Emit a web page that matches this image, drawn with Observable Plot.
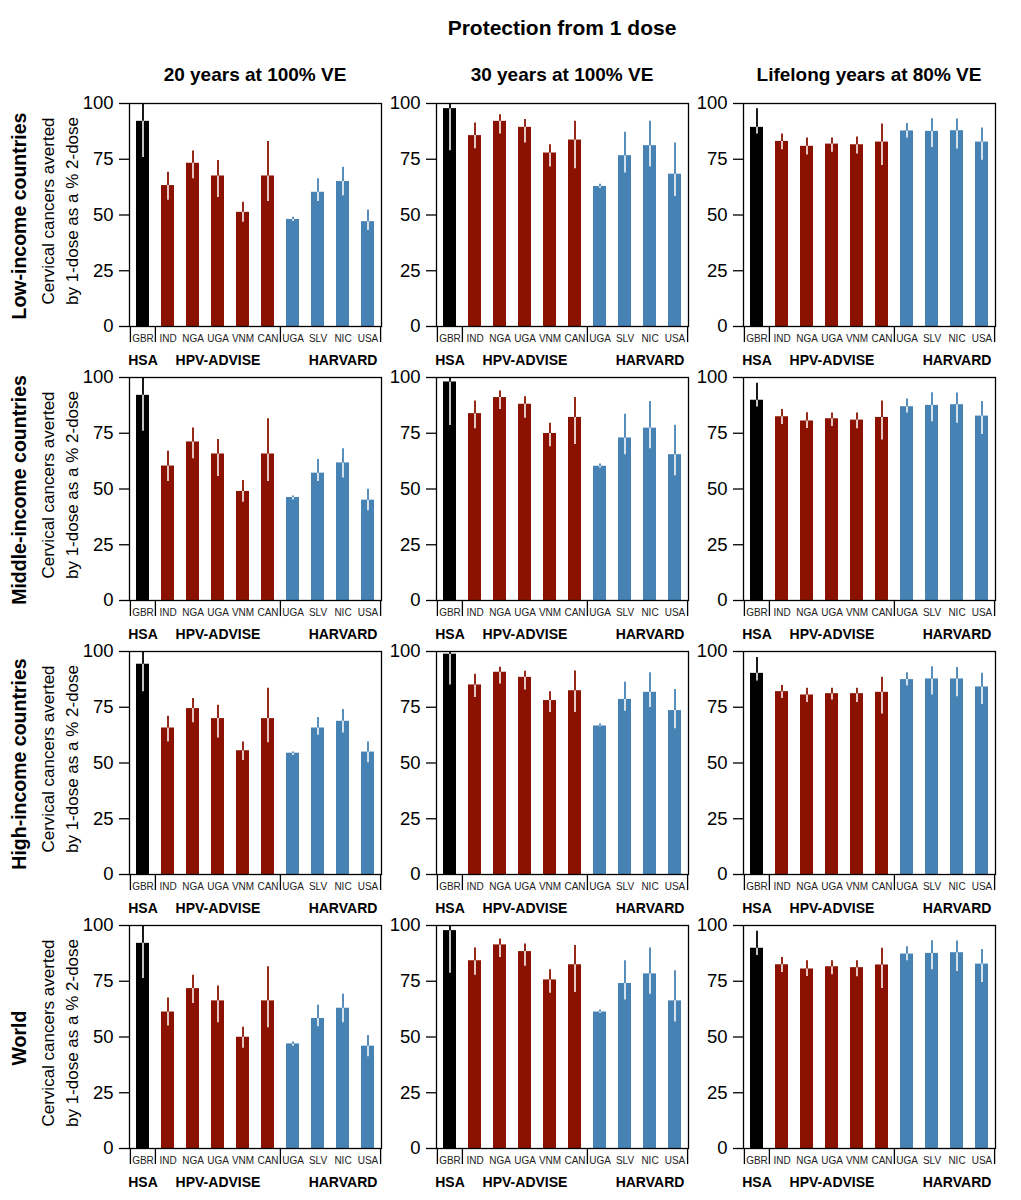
<!DOCTYPE html>
<html><head><meta charset="utf-8">
<script src="https://cdn.jsdelivr.net/npm/d3@7"></script>
<script src="https://cdn.jsdelivr.net/npm/@observablehq/plot@0.6"></script>
<style>
body{margin:0;background:#fff;font-family:"Liberation Sans",Arial,sans-serif;}
#wrap{position:relative;width:1021px;height:1200px;overflow:hidden;}
.t{position:absolute;transform:translate(-50%,-50%);white-space:nowrap;color:#000;line-height:1;}
.b{font-weight:bold;}
.p{position:absolute;}
</style></head><body><div id="wrap"></div>
<script>
// ---- data ----
const mainTitle = "Protection from 1 dose";
const colTitles = ["20 years at 100% VE", "30 years at 100% VE", "Lifelong years at 80% VE"];
const rowTitles = ["Low-income countries", "Middle-income countries", "High-income countries", "World"];
const yLabelLines = ["Cervical cancers averted", "by 1-dose as a % 2-dose"];
const codes = ["GBR", "IND", "NGA", "UGA", "VNM", "CAN", "UGA", "SLV", "NIC", "USA"];
const groupOf = ["HSA", "HPV-ADVISE", "HPV-ADVISE", "HPV-ADVISE", "HPV-ADVISE", "HPV-ADVISE", "HARVARD", "HARVARD", "HARVARD", "HARVARD"];
const groupNames = ["HSA", "HPV-ADVISE", "HARVARD"];
const groupColors = ["#000000", "#8b1200", "#4682b4"];
const groupStart = [0, 1, 6];
const groupAnchor = [0, 3, 8];
const yTicks = [0, 25, 50, 75, 100];

// Low-income
const low20 = [92.0, 63.2, 73.2, 67.5, 51.2, 67.5, 48.0, 60.2, 65.0, 47.0];
const low20Lo = [75.8, 56.6, 66.3, 57.8, 46.7, 56.0, 47.1, 56.0, 58.6, 43.0];
const low20Hi = [100, 69.2, 78.7, 74.4, 55.7, 83.0, 49.0, 66.3, 71.4, 52.2];
const low30 = [97.7, 85.6, 92.0, 89.3, 77.8, 83.6, 62.8, 76.6, 81.1, 68.3];
const low30Lo = [78.8, 79.7, 86.3, 82.3, 71.5, 70.7, 62.0, 68.8, 71.5, 58.3];
const low30Hi = [100, 91.3, 94.9, 92.8, 81.5, 92.0, 63.8, 87.1, 92.0, 82.3];
const lowLife = [89.3, 83.0, 80.8, 81.8, 81.5, 82.7, 87.7, 87.5, 87.8, 82.7];
const lowLifeLo = [86.3, 79.3, 76.9, 78.1, 77.3, 72.2, 84.5, 80.3, 79.6, 74.5];
const lowLifeHi = [97.6, 86.3, 84.5, 84.5, 85.0, 90.8, 91.0, 93.2, 93.1, 89.0];
// Middle-income
const mid20 = [92.0, 60.3, 71.1, 65.7, 48.9, 65.7, 46.2, 57.1, 61.7, 45.0];
const mid20Lo = [75.9, 53.4, 63.6, 55.6, 44.1, 53.4, 45.1, 53.4, 54.9, 40.2];
const mid20Hi = [100, 66.9, 77.3, 72.2, 53.8, 81.5, 46.9, 63.2, 68.0, 49.9];
const mid30 = [98.0, 83.8, 91.0, 88.0, 74.9, 82.1, 60.2, 72.9, 77.3, 65.4];
const mid30Lo = [78.5, 77.0, 85.7, 81.7, 69.0, 69.9, 59.4, 65.4, 68.0, 55.9];
const mid30Hi = [100, 89.5, 94.0, 91.4, 79.5, 91.0, 61.2, 83.5, 89.2, 78.6];
const midLife = [89.8, 82.4, 80.5, 81.5, 80.9, 82.1, 86.9, 87.5, 87.8, 82.7];
const midLifeLo = [86.8, 78.9, 77.1, 78.0, 77.0, 72.0, 84.1, 80.2, 79.5, 74.4];
const midLifeHi = [97.4, 85.6, 84.2, 84.1, 84.1, 89.5, 90.4, 93.2, 93.1, 89.2];
// High-income
const high20 = [94.3, 65.7, 74.4, 69.9, 55.5, 69.9, 54.4, 65.7, 68.7, 54.9];
const high20Lo = [82.0, 59.4, 68.1, 61.2, 51.1, 59.1, 53.4, 62.4, 63.5, 50.1];
const high20Hi = [100, 71.0, 78.9, 75.9, 59.4, 83.5, 54.9, 70.4, 74.0, 59.4];
const high30 = [98.8, 85.0, 90.7, 88.4, 78.0, 82.4, 66.6, 78.5, 81.7, 73.5];
const high30Lo = [85.0, 79.4, 85.4, 82.7, 72.6, 72.6, 66.2, 73.2, 74.9, 65.4];
const high30Hi = [100, 89.8, 92.9, 91.1, 82.0, 91.3, 67.5, 86.2, 90.5, 83.0];
const highLife = [90.2, 82.0, 80.5, 81.1, 81.1, 81.7, 87.4, 87.7, 87.7, 84.1];
const highLifeLo = [86.8, 78.9, 77.1, 78.2, 77.1, 72.0, 84.5, 80.5, 79.7, 76.2];
const highLifeHi = [97.3, 84.8, 83.5, 83.5, 83.5, 88.4, 90.5, 93.2, 92.8, 90.2];
// World
const world20 = [92.0, 61.2, 71.7, 66.2, 49.9, 66.2, 46.9, 58.3, 62.9, 45.9];
const world20Lo = [76.2, 54.9, 65.0, 56.4, 45.0, 54.1, 45.9, 54.6, 56.4, 41.1];
const world20Hi = [100, 67.5, 77.7, 72.9, 54.4, 81.5, 47.8, 64.2, 69.2, 50.7];
const world30 = [97.7, 84.2, 91.3, 88.3, 75.6, 82.4, 61.2, 74.0, 78.3, 66.2];
const world30Lo = [78.6, 77.7, 85.7, 81.7, 69.6, 69.9, 60.5, 66.6, 69.2, 56.7];
const world30Hi = [100, 89.9, 94.0, 91.7, 80.2, 91.0, 62.1, 84.2, 89.9, 79.7];
const worldLife = [89.8, 82.4, 80.5, 81.5, 81.1, 82.3, 87.2, 87.5, 87.8, 82.7];
const worldLifeLo = [86.5, 78.9, 77.1, 77.9, 77.0, 71.7, 84.2, 80.2, 79.4, 74.4];
const worldLifeHi = [97.4, 85.7, 84.2, 84.2, 84.2, 89.8, 90.5, 93.2, 93.1, 89.2];

const panels = [
  [[low20, low20Lo, low20Hi], [low30, low30Lo, low30Hi], [lowLife, lowLifeLo, lowLifeHi]],
  [[mid20, mid20Lo, mid20Hi], [mid30, mid30Lo, mid30Hi], [midLife, midLifeLo, midLifeHi]],
  [[high20, high20Lo, high20Hi], [high30, high30Lo, high30Hi], [highLife, highLifeLo, highLifeHi]],
  [[world20, world20Lo, world20Hi], [world30, world30Lo, world30Hi], [worldLife, worldLifeLo, worldLifeHi]]
];

// ---- layout ----
const frameLeft = [129, 436, 743];
const frameTop = [103, 377, 651, 925];
const frameW = 252, frameH = 223;
const ML = 50, MR = 5, MT = 3, MB = 45;
const half = frameW / codes.length / 2;
const font = "Liberation Sans, Arial, sans-serif";

function panel(val, lo, hi) {
  const data = codes.map((c, i) => ({i, code: c, group: groupOf[i], v: val[i], lo: lo[i], hi: hi[i]}));
  return Plot.plot({
    width: ML + frameW + MR, height: MT + frameH + MB,
    marginLeft: ML, marginRight: MR, marginTop: MT, marginBottom: MB,
    style: {fontFamily: font, background: "transparent", overflow: "visible", color: "#000"},
    x: {type: "band", domain: d3.range(codes.length), paddingInner: 0.5, paddingOuter: 0.25},
    y: {domain: [0, 100]},
    color: {domain: groupNames, range: groupColors},
    marks: [
      Plot.barY(data, {x: "i", y: "v", fill: "group"}),
      Plot.ruleX(data, {x: "i", y1: "lo", y2: "v", stroke: "white", strokeWidth: 1.8, strokeOpacity: 0.85}),
      Plot.ruleX(data, {x: "i", y1: "v", y2: "hi", stroke: "group", strokeWidth: 1.8}),
      Plot.frame({stroke: "#000", strokeWidth: 1.3}),
      Plot.axisY({ticks: yTicks, tickSize: 10, tickPadding: 6, fontSize: 18.5, strokeWidth: 1.3, label: null}),
      Plot.axisX({tickFormat: i => codes[i], tickSize: 0, tickPadding: 8, fontSize: 10, fill: "#222", label: null}),
      Plot.ruleX(groupStart, {x: d => d, dx: -half, y1: 0, y2: -7.2, strokeWidth: 1.3}),
      Plot.ruleX([codes.length - 1], {x: d => d, dx: half, y1: 0, y2: -7.2, strokeWidth: 1.3}),
      Plot.text(groupNames, {x: (d, k) => groupAnchor[k], y: -15.3, text: d => d, fontSize: 14, fontWeight: "bold", lineAnchor: "middle", fill: "#000"})
    ]
  });
}

const wrap = document.getElementById("wrap");
function addText(txt, x, y, size, bold, rotate) {
  const d = document.createElement("div");
  d.className = "t" + (bold ? " b" : "");
  d.textContent = txt;
  d.style.left = x + "px";
  d.style.top = y + "px";
  d.style.fontSize = size + "px";
  if (rotate) d.style.transform = "translate(-50%,-50%) rotate(-90deg)";
  wrap.appendChild(d);
}

addText(mainTitle, 562, 27, 21, true);
colTitles.forEach((t, c) => addText(t, frameLeft[c] + frameW / 2, 74, 19, true));

panels.forEach((row, r) => {
  const cy = frameTop[r] + frameH / 2;
  addText(rowTitles[r], 20, cy + 1, 19.5, true, true);
  addText(yLabelLines[0], 48, cy - 4, 17, false, true);
  addText(yLabelLines[1], 72, cy - 4, 17, false, true);
  row.forEach(([v, lo, hi], c) => {
    const el = panel(v, lo, hi);
    const holder = document.createElement("div");
    holder.className = "p";
    holder.style.left = (frameLeft[c] - ML) + "px";
    holder.style.top = (frameTop[r] - MT) + "px";
    holder.appendChild(el);
    wrap.appendChild(holder);
  });
});
</script></body></html>
